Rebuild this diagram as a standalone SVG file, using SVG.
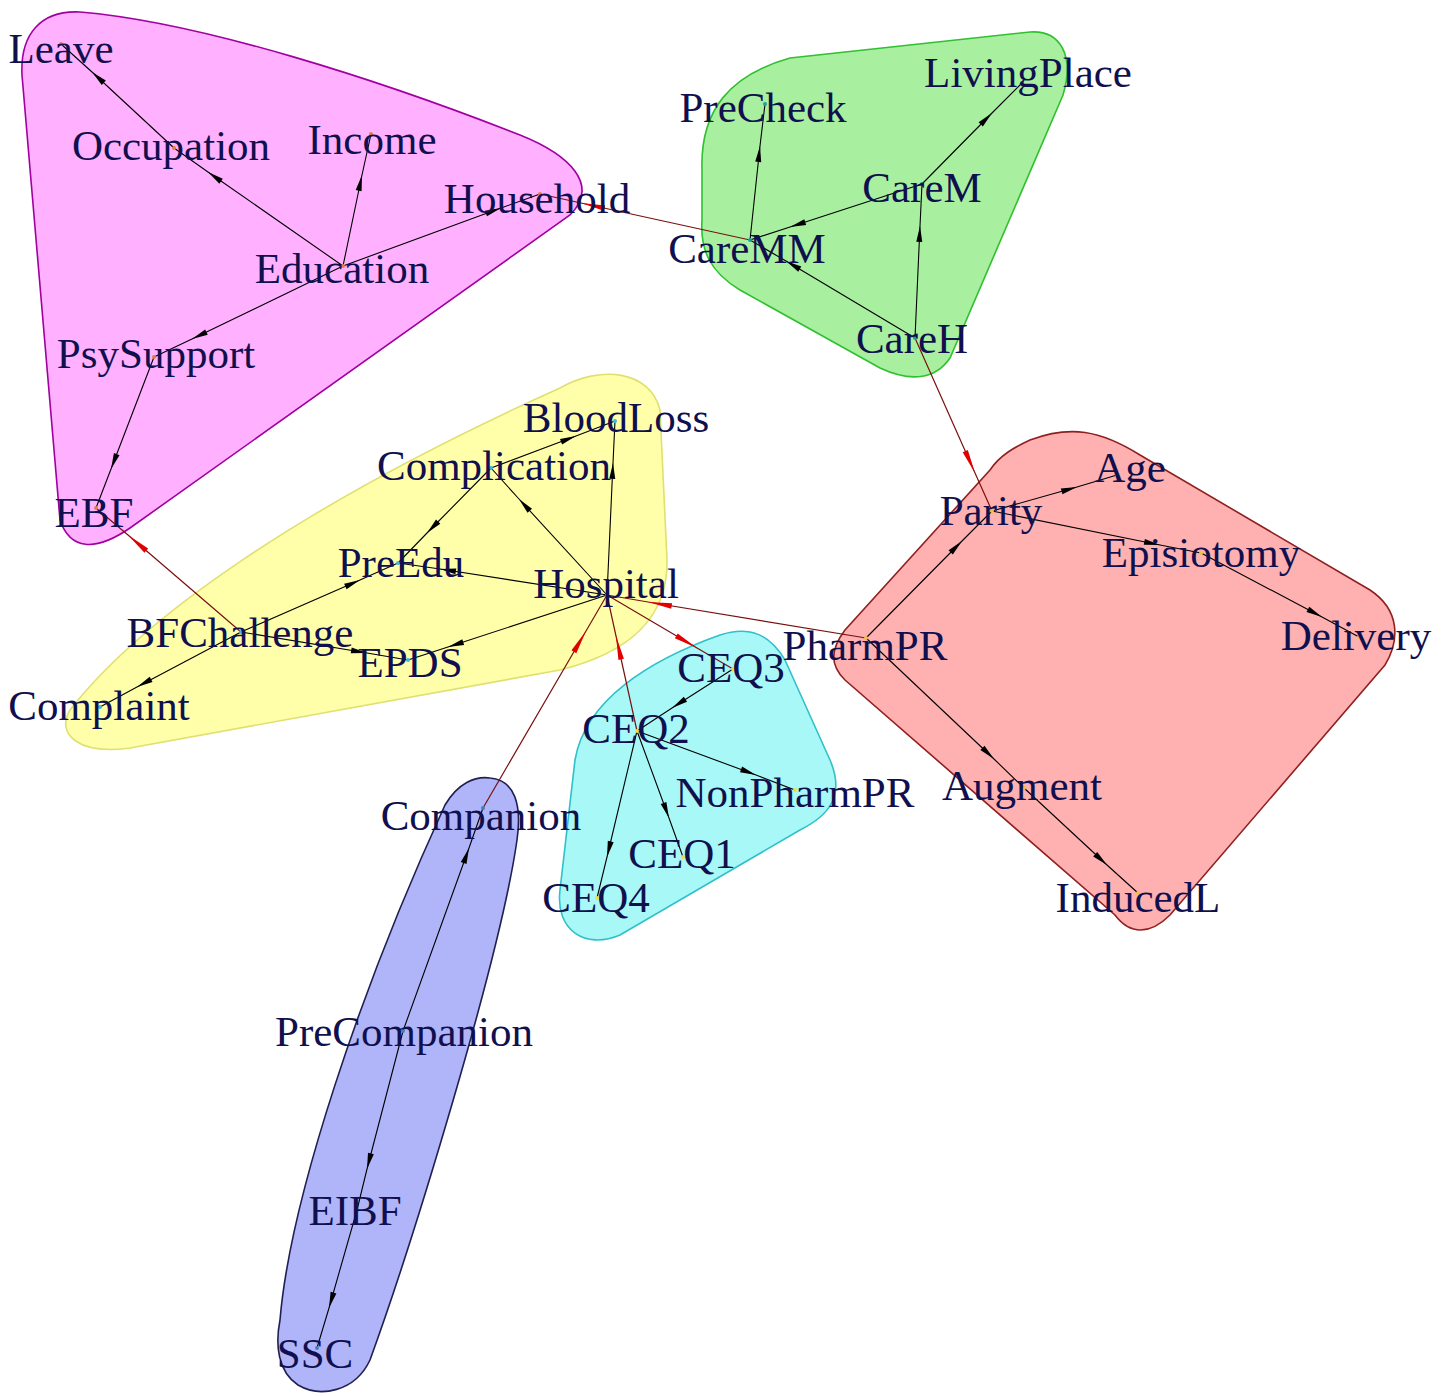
<svg xmlns="http://www.w3.org/2000/svg" width="1441" height="1396" viewBox="0 0 1441 1396">
<style>
.lbl{font-family:"Liberation Serif","Times New Roman",serif;font-size:43px;fill:#10104e;text-anchor:middle}
.e{fill:none;stroke:#000;stroke-width:1.1;marker-mid:url(#ab)}
.r{fill:none;stroke:#7a1010;stroke-width:1.2;marker-mid:url(#ar)}
.hull{stroke-width:1.6}
</style>
<defs>
<marker id="ab" markerUnits="userSpaceOnUse" markerWidth="20" markerHeight="8" viewBox="-18 -4 20 8" refX="0" refY="0" orient="auto" overflow="visible"><path d="M0,0 L-16,-3 L-16,3 Z" fill="#000"/></marker>
<marker id="ar" markerUnits="userSpaceOnUse" markerWidth="28" markerHeight="8" viewBox="-26 -4 28 8" refX="0" refY="0" orient="auto" overflow="visible"><path d="M0,0 L-24,-2.8 L-24,2.8 Z" fill="#e00000"/></marker>
</defs>
<rect width="1441" height="1396" fill="#fff"/>
<g id="hulls">
<path class="hull" fill="#ffb0ff" stroke="#a000a0" d="M22,75 C20,35 40,10 80,12 C200,22 380,80 520,135 C570,155 600,185 570,215 L130,528 C95,552 70,550 60,520 Z"/>
<path class="hull" fill="#a8f0a0" stroke="#30c030" d="M702,170 C700,110 730,75 790,58 L1030,32 C1060,30 1075,55 1063,95 L950,358 C935,380 910,382 880,368 L740,290 C710,272 700,250 702,220 Z"/>
<path class="hull" fill="#ffffaa" stroke="#e0e070" d="M560,388 C600,365 650,370 660,410 L667,560 C668,610 640,650 560,670 L130,748 C80,755 55,735 70,710 C140,620 300,505 560,388 Z"/>
<path class="hull" fill="#a8f8f8" stroke="#30c0c8" d="M720,635 C750,625 770,635 785,660 L830,760 C845,795 830,815 800,830 L620,935 C585,950 555,930 560,890 L575,760 C585,700 650,660 720,635 Z"/>
<path class="hull" fill="#b0b4f8" stroke="#202050" d="M490,778 C515,780 522,805 517,840 C500,960 410,1250 370,1360 C355,1392 320,1398 298,1385 C278,1372 275,1345 280,1320 C290,1200 360,990 445,805 C458,783 475,776 490,778 Z"/>
<path class="hull" fill="#ffb0b0" stroke="#902020" d="M1030,440 C1070,425 1100,430 1140,455 L1370,590 C1400,610 1400,640 1385,665 L1170,915 C1150,935 1130,935 1115,915 L845,680 C830,665 830,650 845,630 L990,470 C1000,455 1015,447 1030,440 Z"/>
</g>
<g id="connectors">
<path class="e" d="M174,148 L92,72 L61,44"/>
<path class="e" d="M343,266 L208,172 L174,148"/>
<path class="e" d="M343,266 L362,175 L371,134"/>
<path class="e" d="M343,266 L501,208 L540,194"/>
<path class="e" d="M343,266 L192,339 L154,357"/>
<path class="e" d="M154,357 L111,469 L96,508"/>
<path class="e" d="M750,240 L760,146 L765,104"/>
<path class="e" d="M922,184 L992,113 L1022,83"/>
<path class="e" d="M922,184 L790,227 L750,240"/>
<path class="e" d="M915,338 L920,226 L922,184"/>
<path class="e" d="M915,338 L786,261 L750,240"/>
<path class="e" d="M491,468 L576,436 L615,421"/>
<path class="e" d="M607,595 L613,463 L615,421"/>
<path class="e" d="M607,595 L519,499 L491,468"/>
<path class="e" d="M491,468 L427,533 L398,563"/>
<path class="e" d="M607,595 L440,569 L398,563"/>
<path class="e" d="M241,632 L360,580 L398,563"/>
<path class="e" d="M241,632 L367,653 L408,660"/>
<path class="e" d="M607,595 L448,647 L408,660"/>
<path class="e" d="M241,632 L137,687 L100,707"/>
<path class="e" d="M733,669 L672,708 L637,731"/>
<path class="e" d="M637,731 L756,775 L795,790"/>
<path class="e" d="M637,731 L669,818 L683,857"/>
<path class="e" d="M637,731 L607,857 L597,898"/>
<path class="e" d="M403,1031 L469,848 L483,808"/>
<path class="e" d="M403,1031 L367,1169 L357,1210"/>
<path class="e" d="M357,1210 L329,1308 L317,1348"/>
<path class="e" d="M992,511 L1077,487 L1117,475"/>
<path class="e" d="M992,511 L1160,545 L1201,553"/>
<path class="e" d="M1201,553 L1322,617 L1359,637"/>
<path class="e" d="M866,638 L962,541 L992,511"/>
<path class="e" d="M866,638 L994,759 L1024,788"/>
<path class="e" d="M1024,788 L1107,865 L1138,893"/>
<path class="r" d="M750,240 L581,203 L540,194"/>
<path class="r" d="M241,632 L128,535 L96,508"/>
<path class="r" d="M915,338 L975,473 L992,511"/>
<path class="r" d="M866,638 L648,602 L607,595"/>
<path class="r" d="M607,595 L697,648 L733,669"/>
<path class="r" d="M637,731 L616,636 L607,595"/>
<path class="r" d="M483,808 L586,631 L607,595"/>
</g>
<g id="n-Leave"><circle cx="61" cy="44" r="2" fill="#e08040"/><text class="lbl" x="61" y="63">Leave</text></g>
<g id="n-Occupation"><circle cx="174" cy="148" r="2" fill="#e08040"/><text class="lbl" x="171" y="160">Occupation</text></g>
<g id="n-Income"><circle cx="371" cy="134" r="2" fill="#e08040"/><text class="lbl" x="372" y="154">Income</text></g>
<g id="n-Household"><circle cx="540" cy="194" r="2" fill="#e08040"/><text class="lbl" x="537" y="213">Household</text></g>
<g id="n-Education"><circle cx="343" cy="266" r="2" fill="#e08040"/><text class="lbl" x="342" y="283">Education</text></g>
<g id="n-PsySupport"><circle cx="154" cy="357" r="2" fill="#e08040"/><text class="lbl" x="156" y="368">PsySupport</text></g>
<g id="n-EBF"><circle cx="96" cy="508" r="2" fill="#e08040"/><text class="lbl" x="94" y="527">EBF</text></g>
<g id="n-PreCheck"><circle cx="765" cy="104" r="2" fill="#20a0a0"/><text class="lbl" x="763" y="122">PreCheck</text></g>
<g id="n-LivingPlace"><circle cx="1022" cy="83" r="2" fill="#20a0a0"/><text class="lbl" x="1028" y="87">LivingPlace</text></g>
<g id="n-CareM"><circle cx="922" cy="184" r="2" fill="#20a0a0"/><text class="lbl" x="922" y="202">CareM</text></g>
<g id="n-CareMM"><circle cx="750" cy="240" r="2" fill="#20a0a0"/><text class="lbl" x="747" y="263">CareMM</text></g>
<g id="n-CareH"><circle cx="915" cy="338" r="2" fill="#20a0a0"/><text class="lbl" x="912" y="353">CareH</text></g>
<g id="n-BloodLoss"><circle cx="615" cy="421" r="2" fill="#40b8e0"/><text class="lbl" x="616" y="432">BloodLoss</text></g>
<g id="n-Complication"><circle cx="491" cy="468" r="2" fill="#40b8e0"/><text class="lbl" x="494" y="480">Complication</text></g>
<g id="n-PreEdu"><circle cx="398" cy="563" r="2" fill="#40b8e0"/><text class="lbl" x="401" y="577">PreEdu</text></g>
<g id="n-Hospital"><circle cx="607" cy="595" r="2" fill="#40b8e0"/><text class="lbl" x="606" y="598">Hospital</text></g>
<g id="n-BFChallenge"><circle cx="241" cy="632" r="2" fill="#40b8e0"/><text class="lbl" x="240" y="647">BFChallenge</text></g>
<g id="n-EPDS"><circle cx="408" cy="660" r="2" fill="#40b8e0"/><text class="lbl" x="410" y="677">EPDS</text></g>
<g id="n-Complaint"><circle cx="100" cy="707" r="2" fill="#40b8e0"/><text class="lbl" x="99" y="720">Complaint</text></g>
<g id="n-CEQ3"><circle cx="733" cy="669" r="2" fill="#f0e040"/><text class="lbl" x="731" y="682">CEQ3</text></g>
<g id="n-CEQ2"><circle cx="637" cy="731" r="2" fill="#f0e040"/><text class="lbl" x="636" y="743">CEQ2</text></g>
<g id="n-NonPharmPR"><circle cx="795" cy="790" r="2" fill="#f0e040"/><text class="lbl" x="795" y="807">NonPharmPR</text></g>
<g id="n-CEQ1"><circle cx="683" cy="857" r="2" fill="#f0e040"/><text class="lbl" x="682" y="868">CEQ1</text></g>
<g id="n-CEQ4"><circle cx="597" cy="898" r="2" fill="#f0e040"/><text class="lbl" x="596" y="912">CEQ4</text></g>
<g id="n-Companion"><circle cx="483" cy="808" r="2" fill="#4080c0"/><text class="lbl" x="481" y="830">Companion</text></g>
<g id="n-PreCompanion"><circle cx="403" cy="1031" r="2" fill="#4080c0"/><text class="lbl" x="404" y="1046">PreCompanion</text></g>
<g id="n-EIBF"><circle cx="357" cy="1210" r="2" fill="#4080c0"/><text class="lbl" x="355" y="1225">EIBF</text></g>
<g id="n-SSC"><circle cx="317" cy="1348" r="2" fill="#4080c0"/><text class="lbl" x="315" y="1368">SSC</text></g>
<g id="n-Parity"><circle cx="992" cy="511" r="2" fill="#f0c040"/><text class="lbl" x="991" y="525">Parity</text></g>
<g id="n-Age"><circle cx="1117" cy="475" r="2" fill="#f0c040"/><text class="lbl" x="1130" y="482">Age</text></g>
<g id="n-Episiotomy"><circle cx="1201" cy="553" r="2" fill="#f0c040"/><text class="lbl" x="1201" y="567">Episiotomy</text></g>
<g id="n-Delivery"><circle cx="1359" cy="637" r="2" fill="#f0c040"/><text class="lbl" x="1356" y="650">Delivery</text></g>
<g id="n-PharmPR"><circle cx="866" cy="638" r="2" fill="#f0c040"/><text class="lbl" x="865" y="660">PharmPR</text></g>
<g id="n-Augment"><circle cx="1024" cy="788" r="2" fill="#f0c040"/><text class="lbl" x="1022" y="800">Augment</text></g>
<g id="n-InducedL"><circle cx="1138" cy="893" r="2" fill="#f0c040"/><text class="lbl" x="1138" y="912">InducedL</text></g>
</svg>
